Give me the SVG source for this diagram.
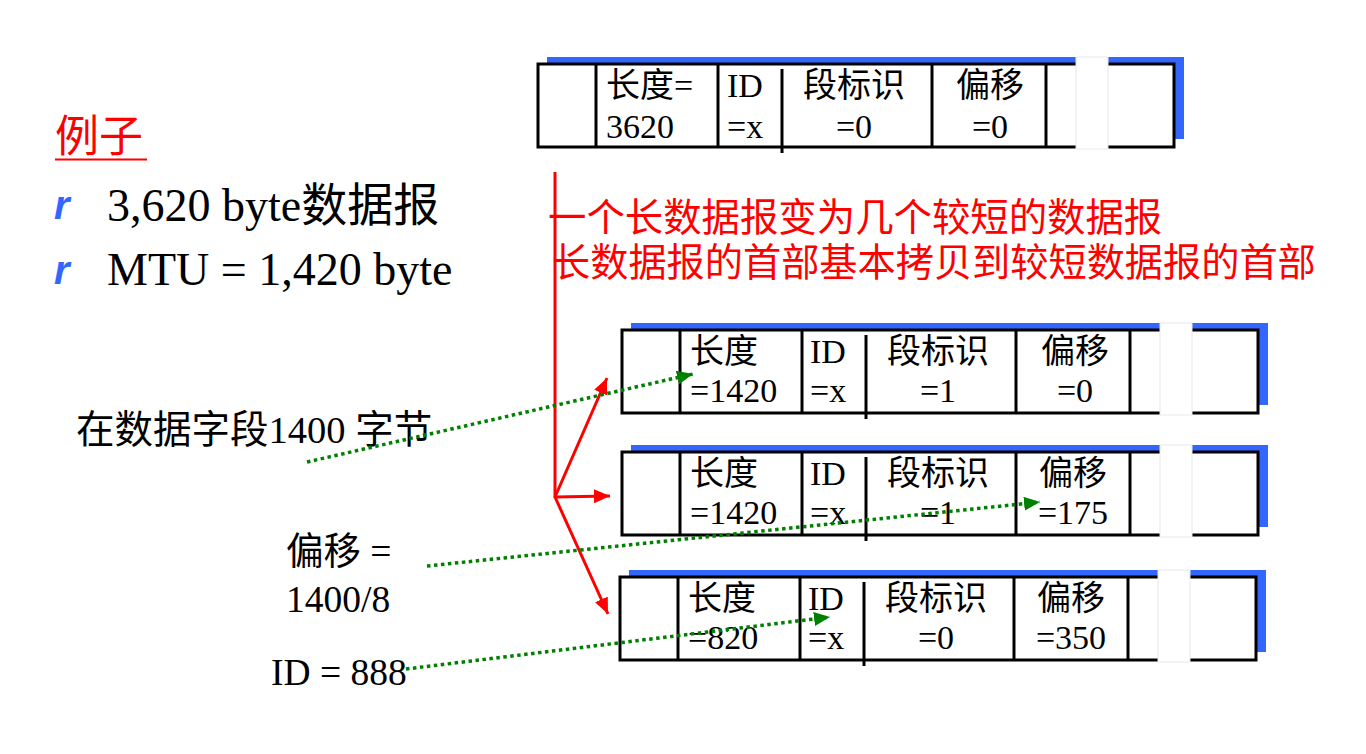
<svg xmlns="http://www.w3.org/2000/svg" width="1366" height="754" viewBox="0 0 1366 754">
  <style>
    .txt { font-family: "Liberation Serif", "Noto Sans CJK SC", serif; fill: #000; }
    .red { fill: #ff0000; }
    .bul { font-family: "Liberation Sans", sans-serif; font-style: italic; font-weight: bold; fill: #3366ff; font-size: 40px; }
    .cell { font-family: "Liberation Serif", "Noto Sans CJK SC", serif; font-size: 34px; fill: #000; }
    .mid { text-anchor: middle; }
    .frame { fill: #fff; stroke: #000; stroke-width: 3; }
    .div { stroke: #000; stroke-width: 3; }
    .shadow { fill: #3366ff; }
    .gap { fill: #fff; stroke: #e4e8ee; stroke-width: 1; }
    .split { stroke: #ff0000; stroke-width: 3; fill: none; }
    .hint { stroke: #008000; stroke-width: 3.5; stroke-dasharray: 3.5 3.5; fill: none; }
  </style>
  <defs>
    <marker id="redHead" markerUnits="userSpaceOnUse" markerWidth="18" markerHeight="14" refX="16" refY="7" orient="auto">
      <path d="M0,0 L16,7 L0,14 Z" fill="#ff0000"/>
    </marker>
    <marker id="greenHead" markerUnits="userSpaceOnUse" markerWidth="18" markerHeight="14" refX="16" refY="7" orient="auto">
      <path d="M0,0 L16,7 L0,14 Z" fill="#008000"/>
    </marker>
    <!-- one header record: blue shadow, frame, field dividers, white break -->
    <g id="record">
      <rect class="shadow" x="9" y="-7" width="637" height="82"/>
      <rect class="frame" x="0" y="0" width="636" height="83"/>
      <line class="div" x1="58" y1="0" x2="58" y2="83"/>
      <line class="div" x1="180" y1="0" x2="180" y2="83"/>
      <line class="div" x1="244" y1="5" x2="244" y2="89"/>
      <line class="div" x1="394" y1="0" x2="394" y2="83"/>
      <line class="div" x1="508" y1="0" x2="508" y2="83"/>
      <rect class="gap" x="538" y="-7" width="32" height="92"/>
    </g>
  </defs>

  <!-- left-hand notes -->
  <g id="title">
    <text class="txt red" x="55" y="152" font-size="44">例子</text>
    <line x1="55" y1="159.5" x2="147" y2="159.5" stroke="#ff0000" stroke-width="2"/>
  </g>
  <g id="facts">
    <text class="bul" x="54" y="219">r</text>
    <text class="txt" x="107" y="221" font-size="46">3,620 byte数据报</text>
    <text class="bul" x="54" y="284">r</text>
    <text class="txt" x="107" y="285" font-size="46">MTU = 1,420 byte</text>
  </g>
  <g id="note-data">
    <text class="txt" x="76" y="443" font-size="38.5">在数据字段1400 字节</text>
  </g>
  <g id="note-offset">
    <text class="txt" x="286" y="564" font-size="37.5">偏移 =</text>
    <text class="txt" x="286" y="612" font-size="37.5">1400/8</text>
  </g>
  <g id="note-id">
    <text class="txt" x="271" y="685" font-size="37.5">ID = 888</text>
  </g>

  <!-- explanation -->
  <g id="caption">
    <text class="txt red" x="548" y="231" font-size="38.4">一个长数据报变为几个较短的数据报</text>
    <text class="txt red" x="552" y="276" font-size="38.2">长数据报的首部基本拷贝到较短数据报的首部</text>
  </g>

  <!-- original datagram -->
  <g id="original" transform="translate(538,64)">
    <use href="#record"/>
    <text class="cell" x="68" y="33">长度=</text>
    <text class="cell" x="68" y="74">3620</text>
    <text class="cell" x="189" y="33">ID</text>
    <text class="cell" x="189" y="74">=x</text>
    <text class="cell mid" x="316" y="33">段标识</text>
    <text class="cell mid" x="316" y="74">=0</text>
    <text class="cell mid" x="452" y="33">偏移</text>
    <text class="cell mid" x="452" y="74">=0</text>
  </g>

  <!-- fragment 1 -->
  <g id="fragment1" transform="translate(622,330)">
    <use href="#record"/>
    <text class="cell" x="68" y="33">长度</text>
    <text class="cell" x="68" y="72">=1420</text>
    <text class="cell" x="188" y="33">ID</text>
    <text class="cell" x="188" y="72">=x</text>
    <text class="cell mid" x="316" y="33">段标识</text>
    <text class="cell mid" x="316" y="72">=1</text>
    <text class="cell mid" x="453" y="33">偏移</text>
    <text class="cell mid" x="453" y="72">=0</text>
  </g>

  <!-- fragment 2 -->
  <g id="fragment2" transform="translate(622,452)">
    <use href="#record"/>
    <text class="cell" x="68" y="33">长度</text>
    <text class="cell" x="68" y="72">=1420</text>
    <text class="cell" x="188" y="33">ID</text>
    <text class="cell" x="188" y="72">=x</text>
    <text class="cell mid" x="316" y="33">段标识</text>
    <text class="cell mid" x="316" y="72">=1</text>
    <text class="cell mid" x="451" y="33">偏移</text>
    <text class="cell mid" x="451" y="72">=175</text>
  </g>

  <!-- fragment 3 -->
  <g id="fragment3" transform="translate(620,577)">
    <use href="#record"/>
    <text class="cell" x="68" y="33">长度</text>
    <text class="cell" x="68" y="72">=820</text>
    <text class="cell" x="188" y="33">ID</text>
    <text class="cell" x="188" y="72">=x</text>
    <text class="cell mid" x="316" y="33">段标识</text>
    <text class="cell mid" x="316" y="72">=0</text>
    <text class="cell mid" x="451" y="33">偏移</text>
    <text class="cell mid" x="451" y="72">=350</text>
  </g>

  <!-- connectors -->
  <g id="connectors">
    <line class="split" x1="555" y1="172" x2="555" y2="498"/>
    <line class="split" x1="555" y1="497" x2="607" y2="378" marker-end="url(#redHead)"/>
    <line class="split" x1="555" y1="497" x2="610" y2="496" marker-end="url(#redHead)"/>
    <line class="split" x1="555" y1="497" x2="608" y2="614" marker-end="url(#redHead)"/>
    <line class="hint" x1="307" y1="462" x2="693" y2="374" marker-end="url(#greenHead)"/>
    <line class="hint" x1="427" y1="566" x2="1040" y2="502" marker-end="url(#greenHead)"/>
    <line class="hint" x1="406" y1="669" x2="830" y2="617" marker-end="url(#greenHead)"/>
  </g>
</svg>
